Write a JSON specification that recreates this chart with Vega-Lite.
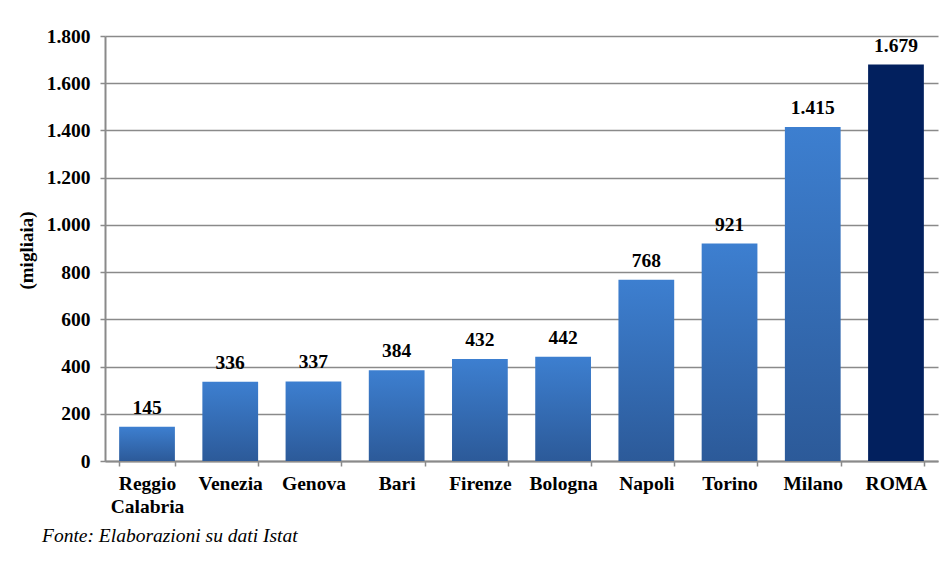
{
  "$schema": "https://vega.github.io/schema/vega-lite/v6.json",
  "width": 833,
  "height": 425,
  "autosize": {"type": "none"},
  "padding": {"left": 105, "top": 36, "right": 11, "bottom": 105},
  "background": "white",
  "config": {
    "locale": {"number": {"decimal": ",", "thousands": ".", "grouping": [3], "currency": ["€", ""]}},
    "view": {"stroke": null},
    "font": "Liberation Serif"
  },
  "title": {
    "text": "Fonte: Elaborazioni su dati Istat",
    "orient": "bottom",
    "anchor": "start",
    "frame": "group",
    "dx": -63,
    "offset": 11,
    "font": "Liberation Serif",
    "fontStyle": "italic",
    "fontWeight": "normal",
    "fontSize": 19.5,
    "color": "black"
  },
  "data": {
    "values": [
      {"citta": "Reggio Calabria", "valore": 145},
      {"citta": "Venezia", "valore": 336},
      {"citta": "Genova", "valore": 337},
      {"citta": "Bari", "valore": 384},
      {"citta": "Firenze", "valore": 432},
      {"citta": "Bologna", "valore": 442},
      {"citta": "Napoli", "valore": 768},
      {"citta": "Torino", "valore": 921},
      {"citta": "Milano", "valore": 1415},
      {"citta": "ROMA", "valore": 1679}
    ]
  },
  "encoding": {
    "x": {
      "field": "citta",
      "type": "nominal",
      "sort": null,
      "scale": {"paddingInner": 0.33, "paddingOuter": 0.17},
      "axis": {
        "title": null,
        "labelAngle": 0,
        "labelExpr": "split(datum.label, ' ')",
        "labelFont": "Liberation Serif",
        "labelFontWeight": "bold",
        "labelFontSize": 19.5,
        "labelColor": "black",
        "labelLineHeight": 23,
        "labelPadding": 8,
        "domainColor": "#8a8a8a",
        "domainWidth": 2,
        "tickColor": "#8a8a8a",
        "tickWidth": 1.5,
        "tickSize": 5,
        "tickBand": "extent",
        "grid": false
      }
    },
    "y": {
      "field": "valore",
      "type": "quantitative",
      "scale": {"domain": [0, 1800], "nice": false},
      "axis": {
        "title": "(migliaia)",
        "titleFont": "Liberation Serif",
        "titleFontWeight": "bold",
        "titleFontSize": 19,
        "titleColor": "black",
        "titleX": -79,
        "titleY": 214,
        "titleAngle": -90,
        "titleAlign": "center",
        "titleBaseline": "middle",
        "values": [0, 200, 400, 600, 800, 1000, 1200, 1400, 1600, 1800],
        "format": ",d",
        "labelFont": "Liberation Serif",
        "labelFontWeight": "bold",
        "labelFontSize": 19.5,
        "labelColor": "black",
        "labelPadding": 10,
        "domainColor": "#8a8a8a",
        "domainWidth": 2,
        "tickColor": "#8a8a8a",
        "tickWidth": 1.5,
        "tickSize": 5,
        "grid": true,
        "gridColor": "#8a8a8a",
        "gridWidth": 1.5
      }
    }
  },
  "layer": [
    {
      "transform": [{"filter": "datum.citta !== 'ROMA'"}],
      "mark": {
        "type": "bar",
        "color": {
          "gradient": "linear",
          "x1": 0, "y1": 0, "x2": 0, "y2": 1,
          "stops": [
            {"offset": 0, "color": "#3d7fd0"},
            {"offset": 1, "color": "#2c5a99"}
          ]
        }
      }
    },
    {
      "transform": [{"filter": "datum.citta === 'ROMA'"}],
      "mark": {"type": "bar", "color": "#02205e"}
    },
    {
      "mark": {
        "type": "text",
        "baseline": "alphabetic",
        "dy": -13,
        "font": "Liberation Serif",
        "fontWeight": "bold",
        "fontSize": 19.5,
        "color": "black"
      },
      "encoding": {
        "text": {"field": "valore", "type": "quantitative", "format": ",d"}
      }
    }
  ]
}
